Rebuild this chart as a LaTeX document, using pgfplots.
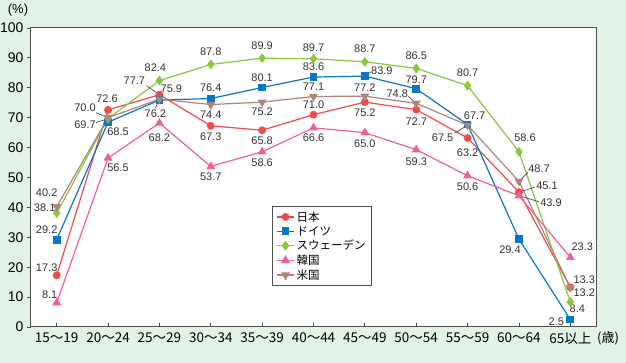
\documentclass[border=0pt]{standalone}
\usepackage{fontspec}
\setmainfont{Liberation Sans}
\newfontfamily\jp{Noto Sans CJK JP}
\usepackage{pgfplots}
\pgfplotsset{compat=1.18}
\definecolor{jpred}{HTML}{F04A4C}
\definecolor{deblue}{HTML}{0A78C6}
\definecolor{swgreen}{HTML}{8DC640}
\definecolor{krpink}{HTML}{EE5E9F}
\definecolor{usbrown}{HTML}{B0857A}
\definecolor{bggreen}{HTML}{E2F2E6}
\definecolor{framec}{HTML}{505050}
\newcommand{\lbl}{\fontsize{11pt}{12pt}\selectfont}
\newcommand{\lab}[5]{\node[font=\lbl,text=black!80,inner sep=0pt,xshift=#3pt,yshift=#4pt] at (axis cs:#1,#2) {#5};}
\newcommand{\lead}[4]{\draw[black!75,line width=0.6pt] (axis cs:#1,#2) -- ++(#3pt,#4pt);}
\begin{document}
\begin{tikzpicture}
\useasboundingbox (0,0) rectangle (626pt,363pt);
\fill[bggreen] (0,0) rectangle (626pt,363pt);
\begin{axis}[
  at={(31pt,36pt)}, anchor=south west,
  scale only axis, width=565pt, height=299pt,
  xmin=-0.5, xmax=10.5, ymin=0, ymax=100,
  axis background/.style={fill=white},
  axis line style={framec, line width=1pt},
  xtick={0,...,10},
  xticklabels={15～19,20～24,25～29,30～34,35～39,40～44,45～49,50～54,55～59,60～64,65以上},
  xticklabel style={font=\jp\fontsize{13.5pt}{14pt}\selectfont, yshift=-2pt},
  ytick={0,10,...,100},
  yticklabel style={font=\fontsize{14pt}{15pt}\selectfont},
  /pgf/number format/assume math mode=true,
  xtick align=inside, ytick align=outside,
  xtick pos=bottom, ytick pos=left,
  major tick length=4pt,
  tick style={framec, line width=0.8pt},
  legend cell align=left,
  legend style={at={(0.4265,0.4047)}, anchor=north west, draw=framec, line width=0.8pt,
    font=\jp\fontsize{11.5pt}{12pt}\selectfont, row sep=-0.5pt, inner xsep=4pt, inner ysep=3pt},
  legend image post style={line width=1.2pt},
  every axis plot/.append style={line width=1.2pt},
]
\addplot[jpred, mark=*, mark size=3.3pt] coordinates {(0,17.3)(1,72.6)(2,77.7)(3,67.3)(4,65.8)(5,71.0)(6,75.2)(7,72.7)(8,63.2)(9,45.1)(10,13.3)};
\addlegendentry{日本}
\addplot[deblue, mark=square*, mark size=3.3pt] coordinates {(0,29.2)(1,68.5)(2,75.9)(3,76.4)(4,80.1)(5,83.6)(6,83.9)(7,79.7)(8,67.7)(9,29.4)(10,2.5)};
\addlegendentry{ドイツ}
\addplot[swgreen, mark=diamond*, mark size=4pt] coordinates {(0,38.1)(1,69.7)(2,82.4)(3,87.8)(4,89.9)(5,89.7)(6,88.7)(7,86.5)(8,80.7)(9,58.6)(10,8.4)};
\addlegendentry{スウェーデン}
\addplot[krpink, mark=triangle*, mark size=4pt] coordinates {(0,8.1)(1,56.5)(2,68.2)(3,53.7)(4,58.6)(5,66.6)(6,65.0)(7,59.3)(8,50.6)(9,43.9)(10,23.3)};
\addlegendentry{韓国}
\addplot[usbrown, mark=triangle*, mark size=4pt, mark options={rotate=180}] coordinates {(0,40.2)(1,70.0)(2,76.2)(3,74.4)(4,75.2)(5,77.1)(6,77.2)(7,74.8)(8,67.5)(9,48.7)(10,13.2)};
\addlegendentry{米国}
% leader lines
\lead{1}{70.0}{-12}{5}
\lead{1}{69.7}{-12}{-4}
\lead{2}{77.7}{-13}{9}
\lead{2}{76.2}{-4}{-9}
\lead{6}{83.9}{6}{4}
\lead{7}{74.8}{-8}{7}
\lead{8}{67.5}{-13}{-8}
\lead{9}{48.7}{9}{9}
\lead{9}{45.1}{16}{5}
\lead{9}{43.9}{20}{-6}
% labels i=0
\lab{0}{40.2}{-10}{14}{40.2}
\lab{0}{38.1}{-12}{5}{38.1}
\lab{0}{29.2}{-10}{10}{29.2}
\lab{0}{17.3}{-10}{8}{17.3}
\lab{0}{8.1}{-7}{8}{8.1}
% i=1
\lab{1}{72.6}{-1}{11}{72.6}
\lab{1}{70.0}{-23}{10}{70.0}
\lab{1}{69.7}{-23}{-6}{69.7}
\lab{1}{68.5}{10}{-10}{68.5}
\lab{1}{56.5}{10}{-10}{56.5}
% i=2
\lab{2}{82.4}{-4}{13}{82.4}
\lab{2}{77.7}{-25}{14}{77.7}
\lab{2}{75.9}{12}{11}{75.9}
\lab{2}{76.2}{-4}{-15}{76.2}
\lab{2}{68.2}{0}{-15}{68.2}
% i=3
\lab{3}{87.8}{0}{12.5}{87.8}
\lab{3}{76.4}{0}{10.5}{76.4}
\lab{3}{74.4}{0}{-10.5}{74.4}
\lab{3}{67.3}{0}{-11}{67.3}
\lab{3}{53.7}{0}{-10}{53.7}
% i=4
\lab{4}{89.9}{0}{12}{89.9}
\lab{4}{80.1}{0}{9.5}{80.1}
\lab{4}{75.2}{0}{-10}{75.2}
\lab{4}{65.8}{0}{-10}{65.8}
\lab{4}{58.6}{0}{-11}{58.6}
% i=5
\lab{5}{89.7}{0}{11}{89.7}
\lab{5}{83.6}{0}{10}{83.6}
\lab{5}{77.1}{0}{9.5}{77.1}
\lab{5}{71.0}{0}{10}{71.0}
\lab{5}{66.6}{0}{-10}{66.6}
% i=6
\lab{6}{88.7}{0}{13}{88.7}
\lab{6}{83.9}{17}{5}{83.9}
\lab{6}{77.2}{0}{9}{77.2}
\lab{6}{75.2}{0}{-11}{75.2}
\lab{6}{65.0}{0}{-11}{65.0}
% i=7
\lab{7}{86.5}{0}{13}{86.5}
\lab{7}{79.7}{0}{9}{79.7}
\lab{7}{74.8}{-19}{10}{74.8}
\lab{7}{72.7}{0}{-12}{72.7}
\lab{7}{59.3}{0}{-12}{59.3}
% i=8
\lab{8}{80.7}{0}{13}{80.7}
\lab{8}{67.7}{7}{9}{67.7}
\lab{8}{67.5}{-25}{-13}{67.5}
\lab{8}{63.2}{0}{-15}{63.2}
\lab{8}{50.6}{0}{-11}{50.6}
% i=9
\lab{9}{58.6}{6}{14}{58.6}
\lab{9}{48.7}{20}{13}{48.7}
\lab{9}{45.1}{28}{6}{45.1}
\lab{9}{43.9}{32}{-7}{43.9}
\lab{9}{29.4}{-9}{-11}{29.4}
% i=10
\lab{10}{23.3}{12}{11}{23.3}
\lab{10}{13.3}{14}{8}{13.3}
\lab{10}{13.2}{14}{-5.5}{13.2}
\lab{10}{8.4}{7}{-7}{8.4}
\lab{10}{2.5}{-14}{-2}{2.5}
\end{axis}
\node[font=\fontsize{13pt}{14pt}\selectfont] at (18pt,353pt) {(\%)};
\node[font=\jp\fontsize{13pt}{14pt}\selectfont, anchor=west, inner sep=0pt] at (597pt,25pt) {(歳)};
\end{tikzpicture}
\end{document}
